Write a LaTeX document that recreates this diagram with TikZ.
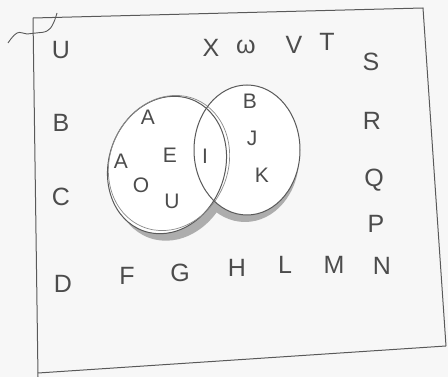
\documentclass[tikz,border=0pt]{standalone}
\usepackage{fontspec}
\setmainfont{Liberation Sans}
\begin{document}
\begin{tikzpicture}[x=1pt,y=-1pt,
  pencil/.style={draw=black!65,line width=1pt},
  lbl/.style={text=black!70,font=\fontsize{25}{25}\selectfont,inner sep=0pt},
  inlbl/.style={text=black!70,font=\fontsize{21}{21}\selectfont,inner sep=0pt},
  shade/.style={fill=black!32,draw=none}]
\useasboundingbox (0,0) rectangle (448,377);
\fill[black!3] (0,0) rectangle (448,377);
% frame
\coordinate (tl) at (33,18);
\coordinate (tr) at (423,8);
\coordinate (br) at (446,346);
\coordinate (bl) at (38,377);
\draw[pencil] (tl) -- (tr) -- (br);
\draw[pencil] (tl) -- (bl);
\draw[pencil] (38,373) -- (br);
% squiggle
\draw[pencil,line width=0.9pt] plot[smooth,tension=0.7] coordinates {(8,43) (17,33) (27,34) (36,33) (47,31) (53,24) (57,13)};
% shadows
\fill[shade,rotate around={-20:(173,172)}] (173,172) ellipse [x radius=58, y radius=70];
\fill[shade] (245,158) ellipse [x radius=54, y radius=64];
% ellipses
\fill[white,rotate around={-20:(167,165)}] (167,165) ellipse [x radius=58, y radius=70];
\fill[white] (247,150) ellipse [x radius=53, y radius=65];
\draw[pencil,rotate around={-20:(167,165)}] (167,165) ellipse [x radius=58, y radius=70];
\draw[draw=black!45,line width=0.7pt,rotate around={-23:(169,163)}] (169,163) ellipse [x radius=59, y radius=69];
\draw[pencil] (247,150) ellipse [x radius=53, y radius=65];
% outside letters
\node[lbl] (u) at (61,50) {U};
\node[lbl] (x) at (211,48) {X};
\node[lbl] (w) at (246,47) {ω};
\node[lbl] (v) at (294,45) {V};
\node[lbl] (t) at (327,42) {T};
\node[lbl] (s) at (371,62) {S};
\node[lbl] (b) at (61,123) {B};
\node[lbl] (r) at (372,121) {R};
\node[lbl] (c) at (61,197) {C};
\node[lbl] (q) at (374,180) {Q};
\node[lbl] (p) at (376,224) {P};
\node[lbl] (d) at (63,284) {D};
\node[lbl] (f) at (127,276) {F};
\node[lbl] (g) at (180,273) {G};
\node[lbl] (h) at (237,268) {H};
\node[lbl] (l) at (285,265) {L};
\node[lbl] (m) at (334,265) {M};
\node[lbl] (n) at (382,266) {N};
% inside letters
\node[inlbl] (a1) at (148,117) {A};
\node[inlbl] (a2) at (121,161) {A};
\node[inlbl] (e) at (170,155) {E};
\node[inlbl,font=\fontsize{21}{21}\selectfont\rmfamily] (i) at (205,156) {I};
\node[inlbl] (o) at (141,185) {O};
\node[inlbl] (uu) at (172,201) {U};
\node[inlbl] (bb) at (250,101) {B};
\node[inlbl] (j) at (252,138) {J};
\node[inlbl] (k) at (262,175) {K};
\end{tikzpicture}
\end{document}
